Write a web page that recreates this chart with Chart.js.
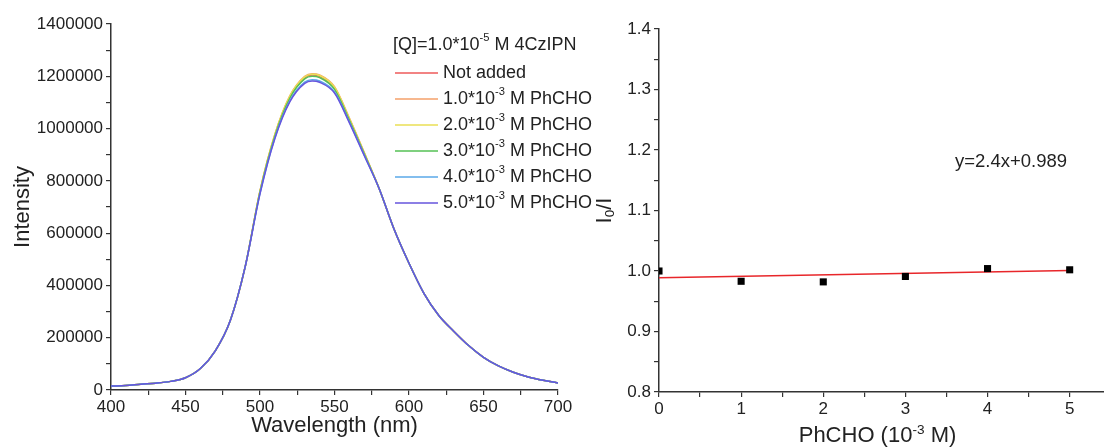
<!DOCTYPE html>
<html><head><meta charset="utf-8">
<script src="https://cdn.jsdelivr.net/npm/chart.js@4.4.0/dist/chart.umd.min.js"></script>
<style>
html,body{margin:0;padding:0;background:#fff;overflow:hidden;width:1104px;height:448px;}
#c1{position:absolute;left:0;top:0;}
#c2{position:absolute;left:596px;top:0;}
</style></head><body>
<canvas id="c1" width="592" height="448"></canvas>
<canvas id="c2" width="514" height="448"></canvas>
<script>
// ---------- DATA ----------
const wavelengths = [400,410,420,430,440,450,460,470,480,490,500,510,520,530,535,540,550,560,570,580,590,600,610,620,630,640,650,660,670,680,690,700];
const notAdded = [15000,17000,22000,26000,33000,47000,82000,150000,265000,470000,760000,975000,1120000,1195000,1205000,1200000,1155000,1035000,905000,770000,615000,485000,370000,285000,225000,170000,125000,92000,68000,50000,37000,27000];
const phcho1 = [15000,17000,22000,26000,33000,47000,82000,150000,265000,470000,762000,978000,1125000,1200000,1210000,1205000,1160000,1040000,908000,770000,615000,485000,370000,285000,225000,170000,125000,92000,68000,50000,37000,27000];
const phcho2 = [15000,17000,22000,26000,33000,47000,82000,150000,265000,470000,762000,978000,1124000,1198000,1208000,1203000,1158000,1038000,906000,770000,615000,485000,370000,285000,225000,170000,125000,92000,68000,50000,37000,27000];
const phcho3 = [15000,17000,22000,26000,33000,47000,82000,150000,265000,470000,758000,972000,1116000,1190000,1200000,1195000,1150000,1032000,903000,770000,615000,485000,370000,285000,225000,170000,125000,92000,68000,50000,37000,27000];
const phcho4 = [15000,17000,22000,26000,33000,47000,82000,150000,265000,470000,752000,965000,1106000,1178000,1187000,1182000,1140000,1025000,898000,770000,615000,485000,370000,285000,225000,170000,125000,92000,68000,50000,37000,27000];
const phcho5 = [15000,17000,22000,26000,33000,47000,82000,150000,265000,470000,750000,962000,1102000,1173000,1182000,1177000,1136000,1022000,896000,770000,615000,485000,370000,285000,225000,170000,125000,92000,68000,50000,37000,27000];
const concLabels = ['1.0','2.0','3.0','4.0','5.0'];
const seriesColors = ['#ee5a5a','#f4a06a','#eadf55','#55c055','#5aa8e8','#6655dd'];

const conc = [0,1,2,3,4,5];
const ratio = [1.000,0.983,0.982,0.991,1.004,1.002];
const fitX = [0,5];
const fitY = [0.989,1.001];
const equationText = 'y=2.4x+0.989';
const rightXTicks = [0,0.5,1,1.5,2,2.5,3,3.5,4,4.5,5];

const FONT = "'Liberation Sans', Arial, sans-serif";

// ---------- helpers ----------
function richWidth(ctx, parts, size){
  let w=0;
  for(const p of parts){
    const s = p.sup||p.sub ? size*0.62 : size;
    ctx.font = s+'px '+FONT;
    w += ctx.measureText(p.t).width;
  }
  return w;
}
function drawRich(ctx, parts, x, y, size, align){
  const total = richWidth(ctx, parts, size);
  let cx = align==='center' ? x-total/2 : x;
  ctx.textAlign='left';
  for(const p of parts){
    const s = p.sup||p.sub ? size*0.62 : size;
    ctx.font = s+'px '+FONT;
    let dy = 0;
    if(p.sup) dy = -size*0.38;
    if(p.sub) dy = size*0.22;
    ctx.fillText(p.t, cx, y+dy);
    cx += ctx.measureText(p.t).width;
  }
}

const spectra = [notAdded, phcho1, phcho2, phcho3, phcho4, phcho5];
const legendParts = [[{t:'Not added'}]].concat(concLabels.map(c=>[{t:c+'*10'},{t:'-3',sup:true},{t:' M PhCHO'}]));

const datasets1 = spectra.map((arr,i)=>({
  label: i===0 ? 'Not added' : concLabels[i-1]+'*10^-3 M PhCHO',
  data: wavelengths.map((w,j)=>({x:w,y:arr[j]})),
  borderColor: seriesColors[i],
  borderWidth: 1.5,
  pointRadius: 0,
  fill:false,
  cubicInterpolationMode:'monotone',
  order: 5-i
}));

const legendPlugin = {
  id:'legend1',
  afterDraw(chart){
    const ctx = chart.ctx;
    ctx.save();
    ctx.fillStyle='#222';
    ctx.textBaseline='middle';
    drawRich(ctx, [{t:'[Q]=1.0*10'},{t:'-5',sup:true},{t:' M 4CzIPN'}], 393, 45, 18, 'left');
    chart.data.datasets.forEach((ds,i)=>{
      const y = 73 + 26*i;
      ctx.strokeStyle = ds.borderColor;
      ctx.lineWidth = 1.5;
      ctx.beginPath(); ctx.moveTo(395,y); ctx.lineTo(438,y); ctx.stroke();
      ctx.fillStyle='#222';
      drawRich(ctx, legendParts[i], 443, y, 18, 'left');
    });
    const a = chart.chartArea;
    ctx.textBaseline='alphabetic';
    drawRich(ctx, [{t:'Wavelength (nm)'}], (a.left+a.right)/2, 432, 22, 'center');
    ctx.translate(29, (a.top+a.bottom)/2);
    ctx.rotate(-Math.PI/2);
    drawRich(ctx, [{t:'Intensity'}], 0, 0, 22, 'center');
    ctx.restore();
  }
};

const tickFont = {size:17, family:FONT};

new Chart(document.getElementById('c1'), {
  type:'line',
  data:{datasets:datasets1},
  options:{
    responsive:false, animation:false,
    layout:{padding:{left:0,top:24,right:34,bottom:0}},
    plugins:{legend:{display:false}, tooltip:{enabled:false}},
    scales:{
      x:{type:'linear', min:400, max:700,
        afterFit:s=>{s.height=58;},
        ticks:{stepSize:25, autoSkip:false, maxRotation:0, font:tickFont, color:'#222', padding:2,
          callback:v=> v%50===0 ? String(v) : ''},
        grid:{drawOnChartArea:false, color:'#333', tickLength:5, lineWidth:1.2},
        border:{color:'#333', width:1.5}},
      y:{min:0, max:1400000,
        afterFit:s=>{s.width=111;},
        ticks:{stepSize:100000, autoSkip:false, font:tickFont, color:'#222', padding:3,
          callback:v=> v%200000===0 ? String(v) : ''},
        grid:{drawOnChartArea:false, color:'#333', tickLength:5, lineWidth:1.2},
        border:{color:'#333', width:1.5}}
    }
  },
  plugins:[legendPlugin]
});

const titles2 = {
  id:'titles2',
  afterDraw(chart){
    const ctx = chart.ctx, a = chart.chartArea;
    ctx.save();
    ctx.fillStyle='#222';
    ctx.textBaseline='alphabetic';
    drawRich(ctx, [{t:'PhCHO (10'},{t:'-3',sup:true},{t:' M)'}], (659-596+1104-596)/2 - 4, 442, 22, 'center');
    ctx.textBaseline='middle';
    drawRich(ctx, [{t:equationText}], 359, 162, 18.5, 'left');
    ctx.translate(9, (a.top+a.bottom)/2);
    ctx.rotate(-Math.PI/2);
    ctx.textBaseline='middle';
    drawRich(ctx, [{t:'I'},{t:'0',sub:true},{t:'/I'}], 0, 0, 22, 'center');
    ctx.restore();
  }
};

new Chart(document.getElementById('c2'), {
  type:'scatter',
  data:{datasets:[
    {type:'line', data:fitX.map((x,i)=>({x:x,y:fitY[i]})), borderColor:'#e8262a', borderWidth:1.5, pointRadius:0, order:1},
    {type:'scatter', data:conc.map((x,i)=>({x:x,y:ratio[i]})), pointStyle:'rect', pointRadius:5, backgroundColor:'#000', borderColor:'#000', borderWidth:0, order:0}
  ]},
  options:{
    responsive:false, animation:false,
    layout:{padding:{left:0,top:29,right:0,bottom:0}},
    plugins:{legend:{display:false}, tooltip:{enabled:false}},
    scales:{
      x:{type:'linear', min:0, max:5.43,
        afterFit:s=>{s.height=56;},
        afterBuildTicks:s=>{s.ticks = rightXTicks.map(v=>({value:v}));},
        ticks:{autoSkip:false, maxRotation:0, font:tickFont, color:'#222', padding:2,
          callback:v=> Math.abs(v-Math.round(v))<1e-6 ? String(Math.round(v)) : ''},
        grid:{drawOnChartArea:false, color:'#333', tickLength:5, lineWidth:1.2},
        border:{color:'#333', width:1.5}},
      y:{min:0.8, max:1.4,
        afterFit:s=>{s.width=63;},
        ticks:{stepSize:0.05, autoSkip:false, font:tickFont, color:'#222', padding:3,
          callback:v=> Math.round(v*100)%10===0 ? v.toFixed(1) : ''},
        grid:{drawOnChartArea:false, color:'#333', tickLength:5, lineWidth:1.2},
        border:{color:'#333', width:1.5}}
    }
  },
  plugins:[titles2]
});
</script>
</body></html>
